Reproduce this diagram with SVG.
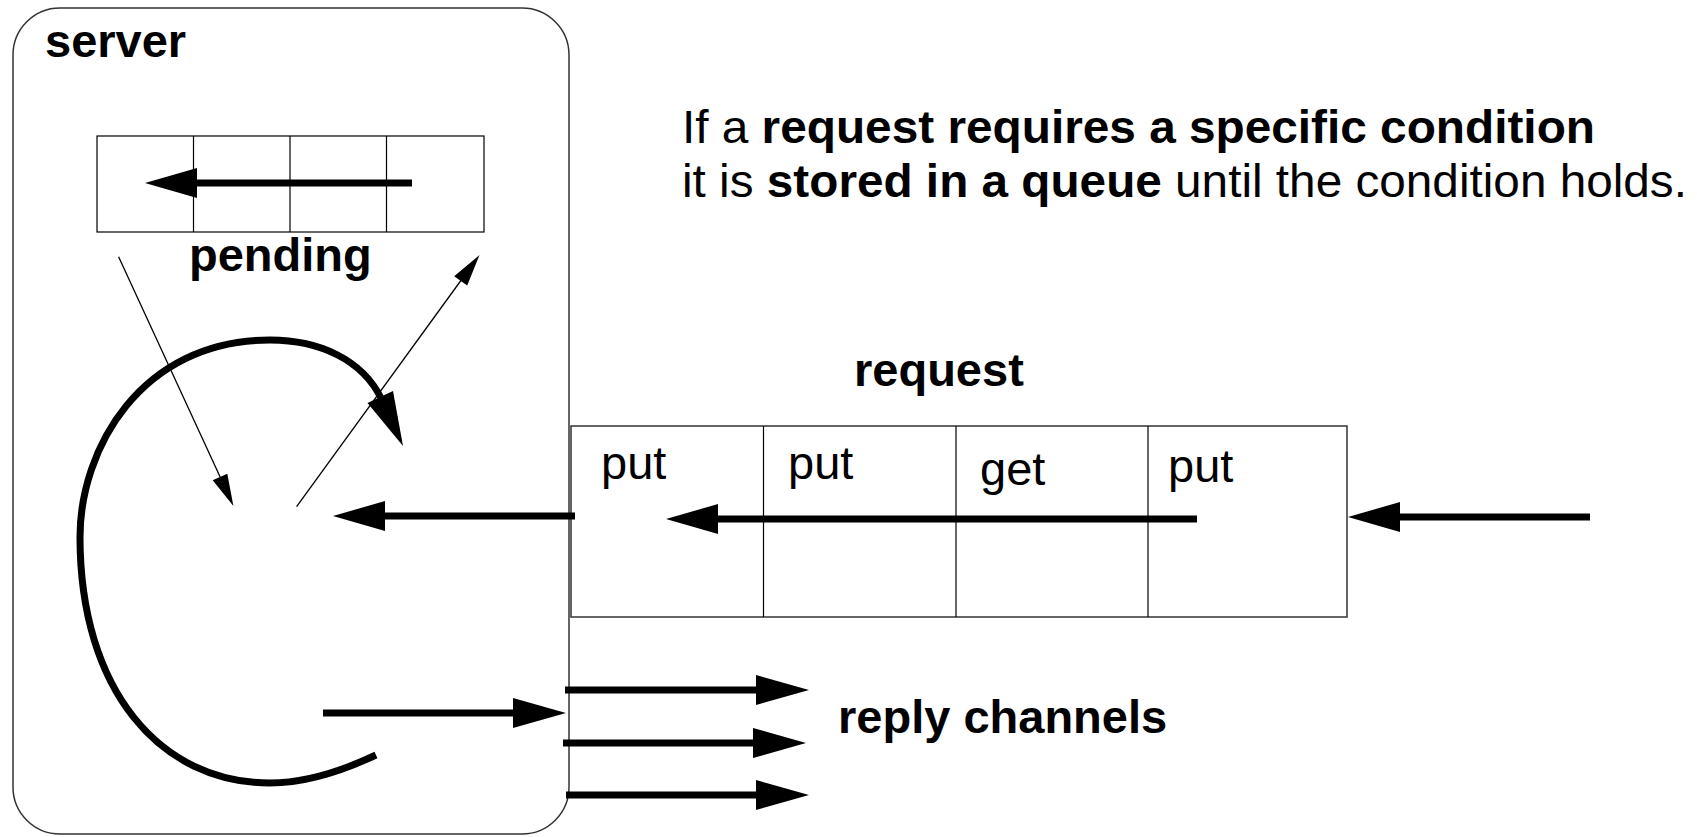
<svg xmlns="http://www.w3.org/2000/svg" width="1697" height="837" viewBox="0 0 1697 837">
  <style>
    .box { fill: #fff; stroke: #333; stroke-width: 1.5; }
    .cell { fill: none; stroke: #000; stroke-width: 1.2; }
    .thick { fill: none; stroke: #000; stroke-width: 7; }
    .thin { fill: none; stroke: #000; stroke-width: 1.3; }
    .head { fill: #000; stroke: none; }
    text { font-family: "Liberation Sans", Arial, sans-serif; font-size: 47px; fill: #000; }
    .b { font-weight: bold; }
  </style>
  <rect width="1697" height="837" fill="#fff"/>

  <g id="server">
    <rect class="box" x="13" y="8" width="556" height="826" rx="47" ry="47"/>
    <text class="b" x="45" y="57">server</text>
  </g>

  <g id="pending">
    <rect class="cell" x="97" y="136" width="387" height="96"/>
    <line class="cell" x1="193.5" y1="136" x2="193.5" y2="232"/>
    <line class="cell" x1="290" y1="136" x2="290" y2="232"/>
    <line class="cell" x1="386.5" y1="136" x2="386.5" y2="232"/>
    <text class="b" x="189" y="271">pending</text>
  </g>

  <g id="request">
    <rect class="box" x="571" y="426" width="776" height="191"/>
    <line class="cell" x1="763.5" y1="426" x2="763.5" y2="617"/>
    <line class="cell" x1="956" y1="426" x2="956" y2="617"/>
    <line class="cell" x1="1148" y1="426" x2="1148" y2="617"/>
    <text x="601" y="479">put</text>
    <text x="788" y="479">put</text>
    <text x="980" y="485">get</text>
    <text x="1168" y="482">put</text>
    <text class="b" x="854" y="386">request</text>
  </g>

  <g id="reply-channels">
    <text class="b" x="838" y="733">reply channels</text>
  </g>

  <g id="note">
    <text x="682" y="143" textLength="913" lengthAdjust="spacingAndGlyphs">If a <tspan class="b">request requires a specific condition</tspan></text>
    <text x="682" y="197" textLength="1005" lengthAdjust="spacingAndGlyphs">it is <tspan class="b">stored in a queue</tspan> until the condition holds.</text>
  </g>

  <g id="connectors">
    <!-- pending queue arrow -->
    <line class="thick" x1="412" y1="183" x2="196" y2="183"/>
    <polygon class="head" points="145,183 197,168 197,198"/>

    <!-- thin arrow from pending down -->
    <line class="thin" x1="118.6" y1="256.7" x2="222" y2="481"/>
    <polygon class="head" points="233.4,506 227.3,473.7 212.7,480.3"/>

    <!-- thin arrow up to pending -->
    <line class="thin" x1="296.6" y1="506.7" x2="462" y2="279"/>
    <polygon class="head" points="479.5,255 467.2,285.6 454.2,276.2"/>

    <!-- big loop -->
    <path class="thick" d="M 376,755 C 340,772 305,783 270,783 C 160,783 80,690 80,537 C 80,450 140,340 270,340 C 320,340 362,360 381,398"/>
    <polygon class="head" points="403,446 367.5,403 393,391"/>

    <!-- request into server -->
    <line class="thick" x1="575" y1="516" x2="384" y2="516"/>
    <polygon class="head" points="333,516 385,501 385,531"/>

    <!-- server out to reply -->
    <line class="thick" x1="323" y1="713" x2="514" y2="713"/>
    <polygon class="head" points="566,713 513,698 513,728"/>

    <!-- reply channels -->
    <line class="thick" x1="565" y1="690" x2="757" y2="690"/>
    <polygon class="head" points="809,690 756,675 756,705"/>
    <line class="thick" x1="563" y1="743" x2="754" y2="743"/>
    <polygon class="head" points="806,743 753,728 753,758"/>
    <line class="thick" x1="566" y1="795" x2="757" y2="795"/>
    <polygon class="head" points="809,795 756,780 756,810"/>

    <!-- request queue inner arrow -->
    <line class="thick" x1="1197" y1="519" x2="717" y2="519"/>
    <polygon class="head" points="666,519 718,504 718,534"/>

    <!-- incoming arrow -->
    <line class="thick" x1="1590" y1="517" x2="1399" y2="517"/>
    <polygon class="head" points="1348,517 1400,502 1400,532"/>
  </g>
</svg>
